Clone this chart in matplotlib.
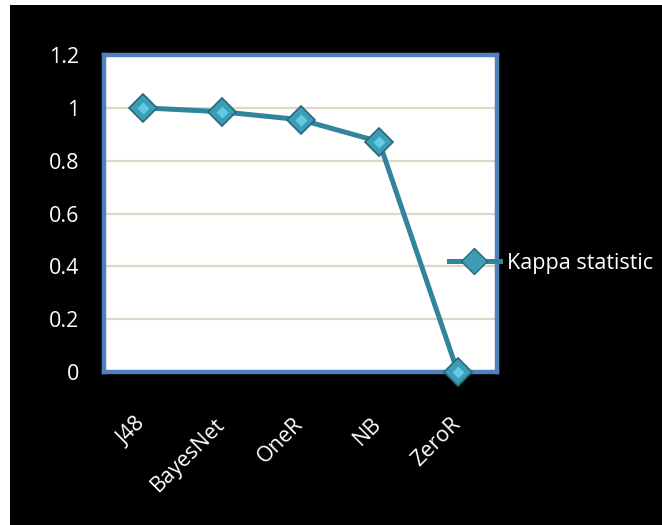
import matplotlib
matplotlib.use("Agg")
import matplotlib.pyplot as plt
from matplotlib.patches import Rectangle
from matplotlib.lines import Line2D
import matplotlib.transforms as mtransforms

classifiers = ["J48", "BayesNet", "OneR", "NB", "ZeroR"]
kappa = [1.0, 0.985, 0.955, 0.872, 0.0]
yticks = [0, 0.2, 0.4, 0.6, 0.8, 1, 1.2]
ytick_labels = ["0", "0.2", "0.4", "0.6", "0.8", "1", "1.2"]
series_name = "Kappa statistic"

W, H = 662, 525
fig = plt.figure(figsize=(W / 100, H / 100), dpi=100)
fig.patch.set_facecolor("white")
fig.add_artist(Rectangle((10 / W, 0), 1 - 10 / W, (H - 5) / H,
                         transform=fig.transFigure, facecolor="black",
                         edgecolor="none", zorder=0))

font = ["Open Sans", "DejaVu Sans"]
ax = fig.add_axes([104 / W, 153 / H, (497 - 104) / W, (372 - 55) / H])
ax.set_facecolor("white")
ax.set_xlim(-0.5, len(classifiers) - 0.5)
ax.set_ylim(0, 1.2)

for y in yticks[1:-1]:
    ax.axhline(y, color="#DCD8C6", lw=1.6, zorder=1)

line_color = "#31849B"
x = list(range(len(classifiers)))
ax.plot(x, kappa, color=line_color, lw=3.6, zorder=3, clip_on=False)
ax.plot(x, kappa, linestyle="none", marker="D", markersize=14,
        markerfacecolor="#3C9DB5", markeredgecolor="#23697B",
        markeredgewidth=1.2, zorder=4, clip_on=False)
ax.plot(x, kappa, linestyle="none", marker="D", markersize=6,
        markerfacecolor="#5FCBE6", markeredgecolor="none",
        zorder=5, clip_on=False)

for side in ["left", "right", "top", "bottom"]:
    ax.spines[side].set_color("#4F81BD")
    ax.spines[side].set_linewidth(3.2)

ax.set_yticks(yticks)
ax.set_yticklabels(ytick_labels)
ax.set_xticks(x)
ax.set_xticklabels(classifiers)
ax.tick_params(axis="both", length=0, colors="white", labelsize=15.5)
ax.tick_params(axis="y", pad=18)
ax.tick_params(axis="x", pad=30)
for lab in ax.get_yticklabels():
    lab.set_family(font)
offset = mtransforms.ScaledTranslation(7 / 100, 0, fig.dpi_scale_trans)
for lab in ax.get_xticklabels():
    lab.set_family(font)
    lab.set_rotation(45)
    lab.set_ha("right")
    lab.set_transform(lab.get_transform() + offset)

handle = Line2D([], [], color=line_color, lw=3.6, marker="D", markersize=13,
                markerfacecolor="#3C9DB5", markeredgecolor="#23697B")
leg = fig.legend([handle], [series_name], loc="center left",
                 bbox_to_anchor=(449 / W, 1 - 263 / H), frameon=False,
                 borderpad=0, borderaxespad=0,
                 handlelength=2.35, handletextpad=0.33,
                 prop={"family": font, "size": 15.5})
for t in leg.get_texts():
    t.set_color("white")

fig.savefig("out.png", dpi=100, facecolor=fig.get_facecolor())
